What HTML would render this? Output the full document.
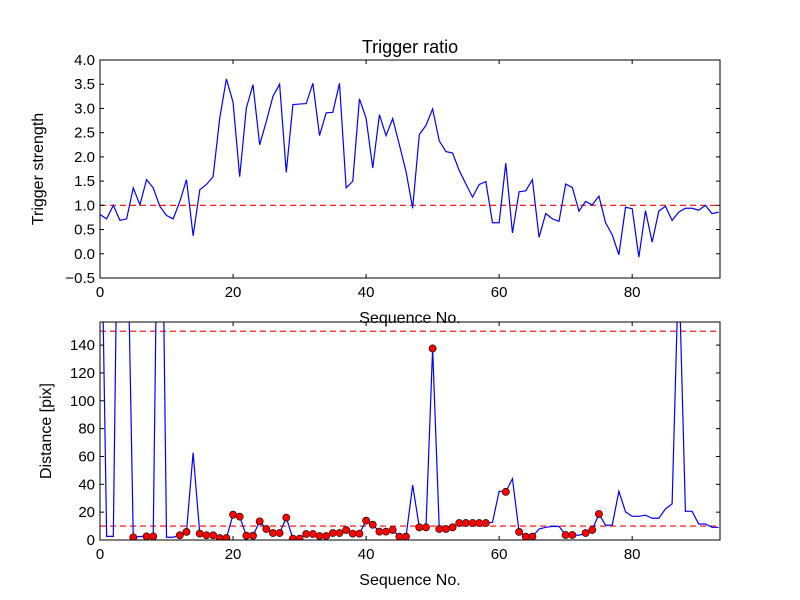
<!DOCTYPE html>
<html><head><meta charset="utf-8"><style>
body{margin:0;background:#fff;}
svg{display:block;font-family:"Liberation Sans","DejaVu Sans",sans-serif;}
</style></head><body>
<svg id="c" width="800" height="600" viewBox="0 0 800 600"></svg>
<script>
const seqIndex = Array.from({length:94},(_,i)=>i);
const triggerStrength = [0.81,0.72,1.0,0.69,0.72,1.36,1.01,1.53,1.36,0.98,0.79,0.72,1.08,1.53,0.37,1.32,1.43,1.59,2.80,3.61,3.13,1.59,3.01,3.49,2.25,2.73,3.25,3.50,1.68,3.08,3.09,3.10,3.52,2.44,2.91,2.92,3.52,1.36,1.50,3.20,2.80,1.77,2.87,2.44,2.79,2.25,1.70,0.94,2.46,2.65,2.99,2.33,2.11,2.08,1.72,1.44,1.17,1.43,1.49,0.64,0.64,1.87,0.43,1.28,1.30,1.53,0.34,0.83,0.72,0.67,1.44,1.37,0.88,1.08,1.01,1.19,0.64,0.39,-0.02,0.96,0.93,-0.07,0.89,0.24,0.88,0.98,0.69,0.86,0.94,0.94,0.90,1.00,0.83,0.86];
const distance = [300,2.6,2.6,380,260,1.9,2.5,2.6,2.6,390,2,2,3.4,5.8,62.7,4.6,3.4,3.4,1.4,1.4,18.2,16.8,3.1,3.1,13.4,7.9,5.0,5.0,16.1,1,1,4.3,4.3,2.9,2.9,5,5,7.2,4.6,4.6,13.9,11,6,6,7.2,2.4,2.4,39.4,9.1,9.1,137.6,7.9,7.9,9.1,12.2,12.2,12.2,12.2,12.2,12.7,35,34.6,44,5.8,2.4,2.4,7.9,9.1,9.8,9.8,3.6,3.6,3.4,5,7.2,18.7,10.6,10.6,35,20.2,17,17,17.8,15.6,15.6,22.3,26,200,20.6,20.6,11.5,11.5,9.1,9.1];
const markedIdx = [5,7,8,12,13,15,16,17,18,19,20,21,22,23,24,25,26,27,28,29,30,31,32,33,34,35,36,37,38,39,40,41,42,43,44,45,46,48,49,50,51,52,53,54,55,56,57,58,61,63,64,65,70,71,73,74,75];
const xTicks = [0,20,40,60,80];
const topYTicks = [-0.5,0,0.5,1.0,1.5,2.0,2.5,3.0,3.5,4.0];
const topYLabels = ["−0.5","0.0","0.5","1.0","1.5","2.0","2.5","3.0","3.5","4.0"];
const botYTicks = [0,20,40,60,80,100,120,140];
const topThresh = [1.0];
const botThresh = [10,150];

const NS="http://www.w3.org/2000/svg";
const svg=document.getElementById('c');
function mk(tag,attrs,parent){const e=document.createElementNS(NS,tag);for(const k in attrs)e.setAttribute(k,attrs[k]);(parent||svg).appendChild(e);return e;}

function panel(cfg){
  const {x0,x1,y0,y1,xmin,xmax,ymin,ymax}=cfg;
  const sx=v=>x0+(v-xmin)/(xmax-xmin)*(x1-x0);
  const sy=v=>y1-(v-ymin)/(ymax-ymin)*(y1-y0);
  const g=mk('g',{});
  
  
  const cid='clip'+cfg.name;
  const cp=mk('clipPath',{id:cid},g);mk('rect',{x:x0,y:y0,width:x1-x0,height:y1-y0},cp);
  const plot=mk('g',{'clip-path':'url(#'+cid+')'},g);
  cfg.thresh.forEach(t=>{
    const l=mk('line',{x1:x0,x2:x1,y1:sy(t),y2:sy(t),stroke:'#ff0000','stroke-width':1.2,'stroke-dasharray':'6,4'},plot);
    
    
  });
  const pts=seqIndex.map((xi,i)=>sx(xi).toFixed(2)+','+sy(cfg.data[i]).toFixed(2)).join(' ');
  const pl=mk('polyline',{points:pts,fill:'none',stroke:'#0000ff','stroke-width':1.2},plot);
  
  
  if(cfg.marks){cfg.marks.forEach(i=>{
    const c=mk('circle',{cx:sx(seqIndex[i]),cy:sy(cfg.data[i]),r:3.6,fill:'#ff0000',stroke:'#000','stroke-width':0.6},plot);
    
    
  });}
  const fr=mk('rect',{x:x0,y:y0,width:x1-x0,height:y1-y0,fill:'none',stroke:'#000','stroke-width':1},g);
  
  
  xTicks.forEach(t=>{
    const X=sx(t);
    mk('line',{x1:X,x2:X,y1:y1,y2:y1-4,stroke:'#000'},g);
    mk('line',{x1:X,x2:X,y1:y0,y2:y0+4,stroke:'#000'},g);
    const tx=mk('text',{x:X,y:y1+19,'text-anchor':'middle','font-size':15},g);
    tx.textContent=t;
    
    
  });
  cfg.yTicks.forEach((t,i)=>{
    const Y=sy(t);
    mk('line',{x1:x0,x2:x0+4,y1:Y,y2:Y,stroke:'#000'},g);
    mk('line',{x1:x1,x2:x1-4,y1:Y,y2:Y,stroke:'#000'},g);
    const tx=mk('text',{x:x0-5,y:Y+5,'text-anchor':'end','font-size':15},g);
    tx.textContent=cfg.yLabels?cfg.yLabels[i]:t;
    
    
  });
  const xl=mk('text',{x:(x0+x1)/2,y:y1+45,'text-anchor':'middle','font-size':16},g);
  xl.textContent='Sequence No.';
  
  
  const yc=(y0+y1)/2;
  const yl=mk('text',{x:cfg.ylx,y:yc,'text-anchor':'middle','font-size':16,transform:'rotate(-90 '+cfg.ylx+' '+yc+')'},g);
  yl.textContent=cfg.ylabel;
  
  
}
panel({name:'trigger-ratio-panel',x0:100,x1:720,y0:60,y1:278,xmin:0,xmax:93.2,ymin:-0.5,ymax:4.0,data:triggerStrength,thresh:topThresh,yTicks:topYTicks,yLabels:topYLabels,ylabel:'Trigger strength',ylx:43});
panel({name:'distance-panel',x0:100,x1:720,y0:322,y1:540,xmin:0,xmax:93.2,ymin:0,ymax:156.6,data:distance,thresh:botThresh,marks:markedIdx,yTicks:botYTicks,ylabel:'Distance [pix]',ylx:51});
const t=mk('text',{x:410,y:53,'text-anchor':'middle','font-size':18});
t.textContent='Trigger ratio';


</script>
</body></html>
